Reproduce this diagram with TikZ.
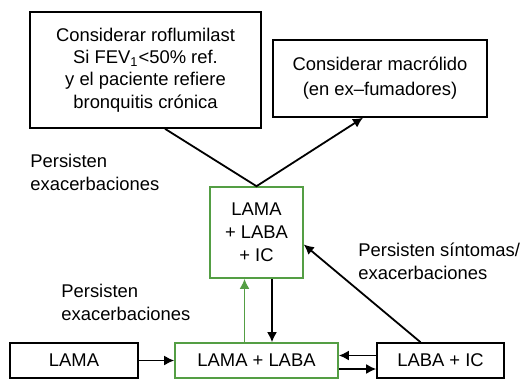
\documentclass[tikz,border=0pt]{standalone}
\usepackage{fontspec}
\setmainfont{Liberation Sans}
\usepackage{tikz}
\usetikzlibrary{arrows.meta,positioning}

\definecolor{copdgreen}{RGB}{84,158,68}

\begin{document}
\begin{tikzpicture}[
    x=0.5pt, y=-0.5pt,
    font=\fontsize{9.2}{11.5}\selectfont,
    box/.style={rectangle, draw=black, line width=0.8pt, fill=white, inner sep=0pt,
        text centered, align=center},
    greenbox/.style={box, draw=copdgreen},
    note/.style={inner sep=0pt, anchor=west, align=left},
    link/.style={line width=0.9pt, -{Latex[length=5pt,width=5pt]}}
    ]
    \useasboundingbox (0,0) rectangle (522,379);
    % top row
    \node (Roflu) [box, minimum width=115.5pt, minimum height=58pt,
        font=\fontsize{9.2}{11.2}\selectfont] at (145.5,70)
        {Considerar roflumilast\\ Si FEV\textsubscript{1}<50\% ref.\\ y el paciente refiere\\ bronquitis crónica};
    \node (Macro) [box, minimum width=107pt, minimum height=38.5pt,
        font=\fontsize{9.2}{12.5}\selectfont] at (380,78.5)
        {Considerar macrólido\\ (en ex--fumadores)};
    % middle
    \node (Triple) [greenbox, minimum width=46.5pt, minimum height=45.5pt] at (256.5,232.5)
        {LAMA\\ + LABA\\ + IC};
    % bottom row
    \node (Lama) [box, minimum width=64pt, minimum height=17.5pt] at (74,360.5) {LAMA};
    \node (LamaLaba) [greenbox, minimum width=81.5pt, minimum height=17.5pt] at (256.5,360.5) {LAMA + LABA};
    \node (LabaIc) [box, minimum width=63.5pt, minimum height=17.5pt] at (440.5,360.5) {LABA + IC};
    % labels
    \node (Note1) [note] at (30,172) {Persisten\\ exacerbaciones};
    \node (Note2) [note] at (61,302) {Persisten\\ exacerbaciones};
    \node (Note3) [note] at (358,261) {Persisten síntomas/\\ exacerbaciones};

    \draw [link] ([xshift=9.75pt]Roflu.south) -- (Triple.north) -- ([xshift=-8.5pt]Macro.south);
    \draw [link] (Lama) -- (LamaLaba);
    \draw [link] ([yshift=2.5pt]LabaIc.west) -- ([yshift=2.5pt]LamaLaba.east);
    \draw [link] ([yshift=-4.25pt]LamaLaba.east) -- ([yshift=-4.25pt]LabaIc.west);
    \draw [link, draw=copdgreen, fill=copdgreen] ([xshift=-6pt]LamaLaba.north) -- ([xshift=-6pt]Triple.south);
    \draw [link] ([xshift=7.75pt]Triple.south) -- ([xshift=7.75pt]LamaLaba.north);
    \draw [link] ([xshift=-10pt]LabaIc.north) -- ([yshift=-6pt]Triple.east);
\end{tikzpicture}
\end{document}
